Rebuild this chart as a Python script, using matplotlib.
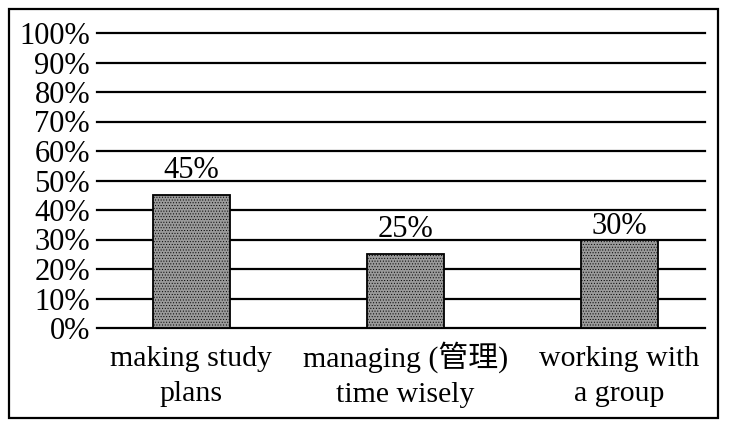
import matplotlib.pyplot as plt
from matplotlib.patches import Rectangle
from matplotlib.transforms import ScaledTranslation

categories = ["making study\nplans", "managing (管理)\ntime wisely", "working with\na group"]
values = [45, 25, 30]
y_ticks = [0, 10, 20, 30, 40, 50, 60, 70, 80, 90, 100]

plt.rcParams['font.family'] = ['Liberation Serif', 'Noto Sans CJK SC']
plt.rcParams['hatch.linewidth'] = 0.4

W, H = 729, 425
fig = plt.figure(figsize=(W / 100, H / 100), dpi=100)
# plot area in pixels: x 97..705, y 33..328
ax = fig.add_axes([97 / W, 1 - 328 / H, (705 - 97) / W, (328 - 33) / H])

# outer frame around the whole chart
fig.patches.append(Rectangle((9 / W, 1 - 418 / H), (718 - 9) / W, (418 - 9) / H,
                             transform=fig.transFigure, fill=False,
                             edgecolor='black', linewidth=1.6))

x = list(range(len(categories)))
for yt in y_ticks:
    ax.axhline(yt, color='black', linewidth=1.6, zorder=1, clip_on=False)

bars = ax.bar(x, values, width=0.36, color='#9a9a9a', edgecolor='black',
              linewidth=1.3, hatch='......', zorder=2)

# value labels sit a bit unevenly above the bars in the original
label_gap = [3.5, 3.5, -0.5]
for xi, v, g in zip(x, values, label_gap):
    ax.text(xi, v + g, f"{v}%", ha='center', va='bottom', fontsize=22)

ax.set_xlim(-0.44, 2.40)
ax.set_ylim(0, 100)
ax.set_yticks(y_ticks)
ax.set_yticklabels([f"{t}%" for t in y_ticks], fontsize=22)
ax.set_xticks(x)
ax.set_xticklabels(categories, fontsize=21.5, linespacing=1.45)
ax.tick_params(axis='both', length=0)
ax.tick_params(axis='y', pad=5)
ax.tick_params(axis='x', pad=13)
for s in ax.spines.values():
    s.set_visible(False)

# the CJK glyphs make the middle label taller; nudge it back up
lbl = ax.get_xticklabels()[1]
lbl.set_transform(lbl.get_transform() + ScaledTranslation(0, 5 / 100, fig.dpi_scale_trans))

fig.savefig("out.png", dpi=100)
